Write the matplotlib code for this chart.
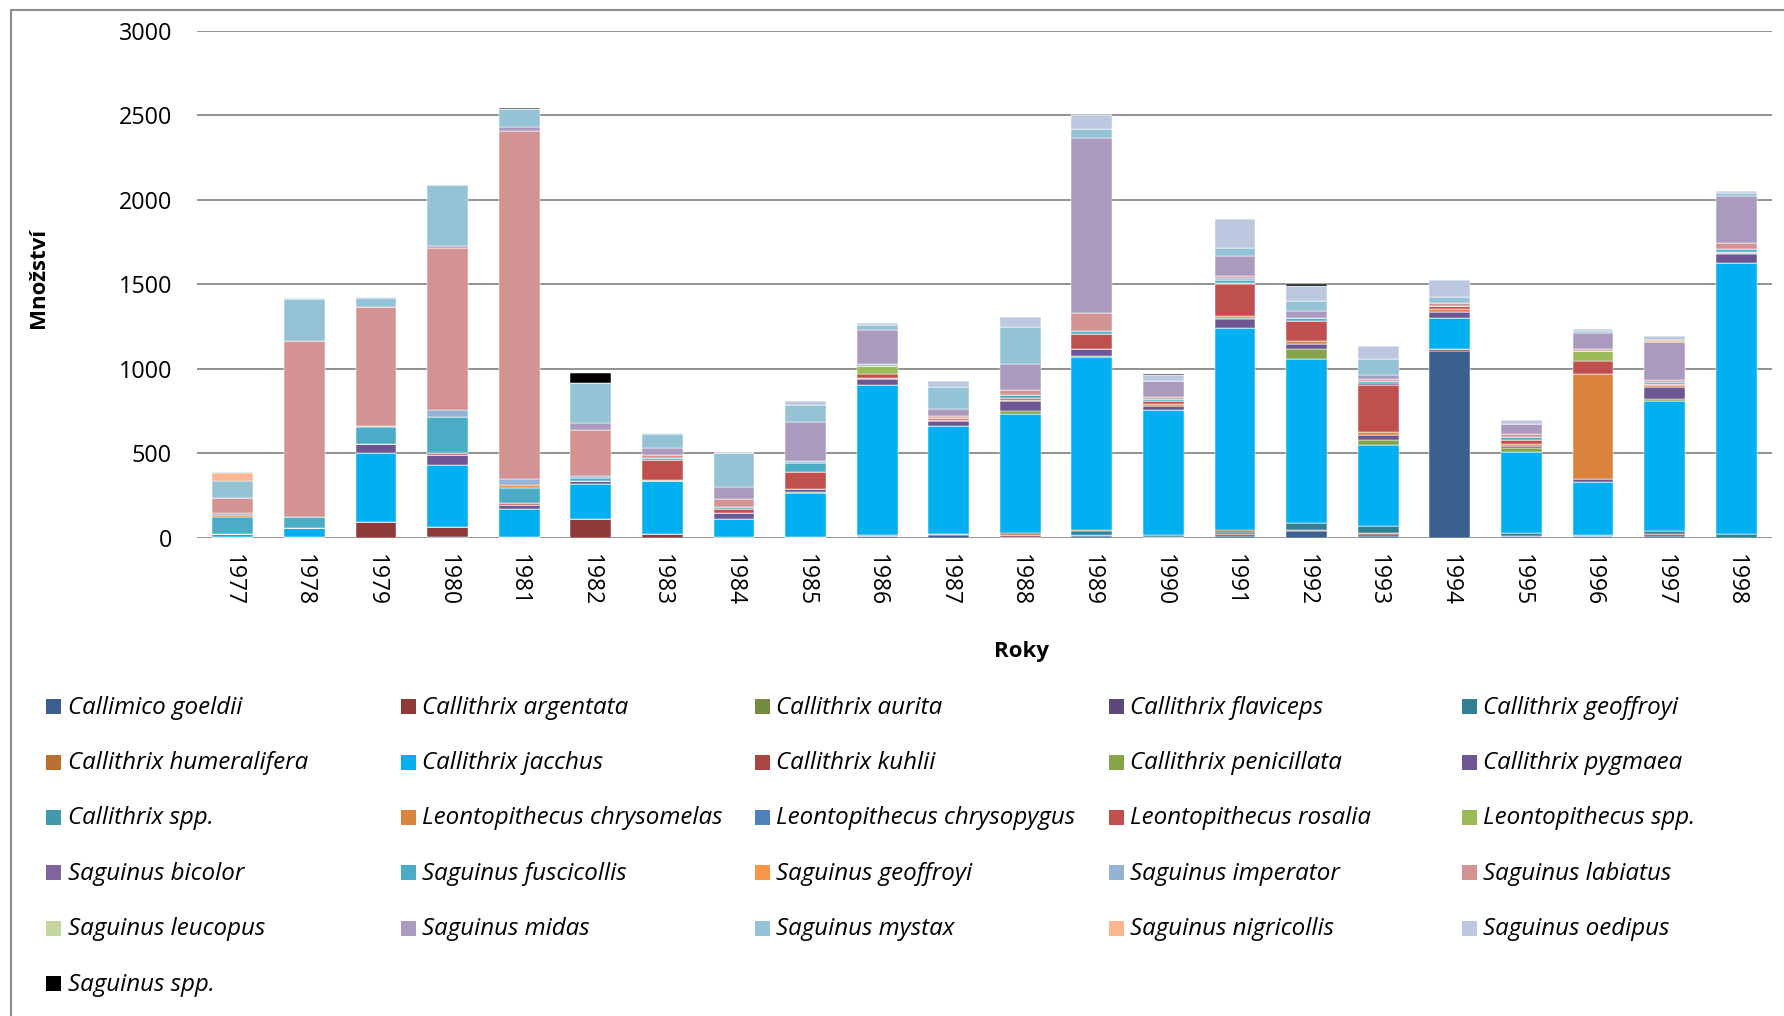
import matplotlib
matplotlib.use("Agg")
import matplotlib.pyplot as plt
import numpy as np
from matplotlib.patches import Rectangle
from matplotlib.lines import Line2D

years = [str(y) for y in range(1977, 1999)]

# Animals per species and year (1977 ... 1998)
callimico_goeldii = [0, 0, 0, 5, 6, 0, 0, 0, 4, 8, 15, 5, 12, 0, 8, 41, 10, 1107, 8, 8, 8, 0]
callithrix_argentata = [5, 5, 90, 59, 0, 113, 20, 0, 0, 0, 4, 10, 6, 4, 16, 4, 14, 10, 0, 0, 12, 0]
callithrix_aurita = [0, 0, 0, 0, 0, 0, 0, 0, 0, 0, 0, 0, 0, 0, 0, 0, 6, 0, 0, 0, 0, 0]
callithrix_flaviceps = [0, 0, 0, 0, 0, 0, 0, 0, 0, 0, 0, 0, 0, 0, 0, 0, 0, 0, 5, 0, 0, 0]
callithrix_geoffroyi = [0, 0, 0, 0, 0, 0, 0, 6, 0, 0, 0, 0, 22, 10, 10, 40, 41, 0, 14, 8, 18, 20]
callithrix_humeralifera = [0, 0, 0, 0, 0, 0, 0, 0, 0, 8, 0, 14, 4, 0, 10, 0, 0, 0, 0, 0, 0, 0]
callithrix_jacchus = [18, 51, 409, 366, 162, 207, 313, 103, 263, 888, 640, 700, 1027, 741, 1196, 974, 480, 184, 482, 312, 773, 1607]
callithrix_kuhlii = [0] * 22
callithrix_penicillata = [0, 0, 0, 0, 0, 0, 0, 0, 5, 0, 0, 20, 6, 0, 0, 59, 28, 0, 24, 0, 10, 0]
callithrix_pygmaea = [0, 0, 53, 59, 28, 16, 0, 40, 18, 38, 30, 59, 38, 24, 55, 28, 28, 34, 10, 18, 73, 49]
callithrix_spp = [0, 0, 0, 0, 0, 0, 0, 0, 0, 0, 0, 0, 0, 0, 6, 0, 0, 0, 0, 0, 0, 6]
leontopithecus_chrysomelas = [0, 0, 0, 0, 0, 0, 8, 0, 0, 5, 8, 4, 0, 10, 8, 20, 16, 16, 10, 622, 12, 0]
leontopithecus_chrysopygus = [0] * 22
leontopithecus_rosalia = [0, 0, 0, 10, 8, 0, 119, 20, 101, 22, 10, 14, 93, 20, 192, 119, 279, 20, 26, 79, 6, 10]
leontopithecus_spp = [0, 0, 0, 0, 0, 0, 0, 0, 0, 49, 0, 0, 0, 0, 8, 0, 0, 0, 0, 59, 0, 0]
saguinus_bicolor = [0, 0, 0, 0, 0, 0, 0, 0, 0, 0, 0, 0, 0, 0, 0, 0, 16, 0, 0, 0, 0, 0]
saguinus_fuscicollis = [100, 65, 101, 215, 93, 16, 14, 12, 53, 0, 0, 16, 14, 12, 14, 16, 12, 0, 14, 0, 8, 16]
saguinus_geoffroyi = [12, 0, 10, 0, 12, 0, 0, 0, 0, 0, 0, 0, 0, 0, 0, 0, 0, 0, 0, 0, 0, 0]
saguinus_imperator = [10, 0, 0, 43, 38, 12, 0, 0, 12, 10, 0, 0, 0, 0, 12, 0, 0, 0, 0, 0, 0, 0]
saguinus_labiatus = [91, 1045, 704, 960, 2060, 273, 14, 49, 0, 0, 14, 34, 105, 10, 14, 0, 8, 16, 20, 12, 14, 36]
saguinus_leucopus = [0] * 22
saguinus_midas = [0, 0, 0, 10, 24, 40, 45, 69, 231, 200, 43, 152, 1041, 95, 119, 43, 26, 0, 61, 93, 225, 277]
saguinus_mystax = [98, 247, 51, 360, 104, 238, 79, 205, 99, 32, 125, 217, 53, 0, 49, 59, 93, 40, 0, 12, 0, 20]
saguinus_nigricollis = [49, 0, 0, 0, 0, 0, 0, 0, 0, 0, 0, 0, 0, 0, 0, 0, 0, 0, 0, 0, 8, 0]
saguinus_oedipus = [8, 8, 5, 0, 0, 0, 6, 0, 20, 10, 40, 59, 79, 36, 170, 85, 75, 100, 24, 12, 28, 12]
saguinus_spp = [0, 0, 0, 0, 10, 59, 0, 0, 0, 0, 0, 0, 0, 6, 0, 16, 0, 0, 0, 0, 0, 0]

species = [
    ("Callimico goeldii", callimico_goeldii, "#3b5f8e"),
    ("Callithrix argentata", callithrix_argentata, "#8e3a38"),
    ("Callithrix aurita", callithrix_aurita, "#728b3f"),
    ("Callithrix flaviceps", callithrix_flaviceps, "#5c4879"),
    ("Callithrix geoffroyi", callithrix_geoffroyi, "#327f93"),
    ("Callithrix humeralifera", callithrix_humeralifera, "#b96f31"),
    ("Callithrix jacchus", callithrix_jacchus, "#00b0f0"),
    ("Callithrix kuhlii", callithrix_kuhlii, "#a94643"),
    ("Callithrix penicillata", callithrix_penicillata, "#86a44a"),
    ("Callithrix pygmaea", callithrix_pygmaea, "#6e5594"),
    ("Callithrix spp.", callithrix_spp, "#4198af"),
    ("Leontopithecus chrysomelas", leontopithecus_chrysomelas, "#db843d"),
    ("Leontopithecus chrysopygus", leontopithecus_chrysopygus, "#4f81bd"),
    ("Leontopithecus rosalia", leontopithecus_rosalia, "#c0504d"),
    ("Leontopithecus spp.", leontopithecus_spp, "#9bbb59"),
    ("Saguinus bicolor", saguinus_bicolor, "#8064a2"),
    ("Saguinus fuscicollis", saguinus_fuscicollis, "#4bacc6"),
    ("Saguinus geoffroyi", saguinus_geoffroyi, "#f79646"),
    ("Saguinus imperator", saguinus_imperator, "#95b3d7"),
    ("Saguinus labiatus", saguinus_labiatus, "#d29392"),
    ("Saguinus leucopus", saguinus_leucopus, "#c3d69b"),
    ("Saguinus midas", saguinus_midas, "#aa9bbe"),
    ("Saguinus mystax", saguinus_mystax, "#93c3d4"),
    ("Saguinus nigricollis", saguinus_nigricollis, "#fab68e"),
    ("Saguinus oedipus", saguinus_oedipus, "#bcc8e0"),
    ("Saguinus spp.", saguinus_spp, "#000000"),
]

W, H = 1784, 1016
fig = plt.figure(figsize=(W / 100, H / 100), dpi=100)
FONT = "Open Sans"

def px(x, y):
    return x / W, 1 - y / H

# plot area in pixels
L, R, T, B = 197, 1772, 30.7, 537.7
ax = fig.add_axes([L / W, 1 - B / H, (R - L) / W, (B - T) / H])

x = np.arange(len(years))
bottom = np.zeros(len(years))
for name, vals, col in species:
    v = np.array(vals, dtype=float)
    ax.bar(x, v, bottom=bottom, width=0.57, color=col,
           edgecolor="white", linewidth=0.35, zorder=3)
    bottom += v

ax.set_xlim(-0.5, len(years) - 0.5)
ax.set_ylim(0, 3000)
ax.set_yticks(range(0, 3001, 500))
ax.yaxis.grid(True, color="#898989", linewidth=1.3, zorder=0)
ax.set_axisbelow(True)
for s in ax.spines.values():
    s.set_visible(False)
ax.set_xticks(x)
ax.set_xticklabels(years, rotation=-90, fontsize=16.5, family=FONT)
ax.tick_params(axis="x", length=0, pad=12)
ax.tick_params(axis="y", length=0, pad=18, labelsize=16.8)
for t in ax.get_yticklabels():
    t.set_family(FONT)

fig.text(*px(38, 278), "Množství", rotation=90, ha="center", va="center",
         fontsize=16, fontweight="bold", family=FONT)
fig.text(*px(1021, 651), "Roky", ha="center", va="center",
         fontsize=16, fontweight="bold", family=FONT)

# outer frame (top and left edges)
fig.add_artist(Line2D([11 / W, 11 / W, 1], [0, 1 - 10 / H, 1 - 10 / H],
                      transform=fig.transFigure, color="#8c8c8c", linewidth=1.5))

# legend, five columns filled row by row
col_x = [53.5, 408, 762.5, 1116.5, 1469]
row_y = [706.7, 762.1, 817.5, 872.9, 928.3, 983.7]
sq = 15
for i, (name, vals, col) in enumerate(species):
    cx = col_x[i % 5]
    cy = row_y[i // 5]
    fig.add_artist(Rectangle(((cx - sq / 2) / W, 1 - (cy + sq / 2) / H), sq / W, sq / H,
                             transform=fig.transFigure, facecolor=col, edgecolor="none"))
    fig.text(*px(cx + 14, cy + 1), name, ha="left", va="center", fontsize=17.4,
             fontstyle="italic", family=FONT)

fig.savefig("out.png", dpi=100, facecolor="white")
